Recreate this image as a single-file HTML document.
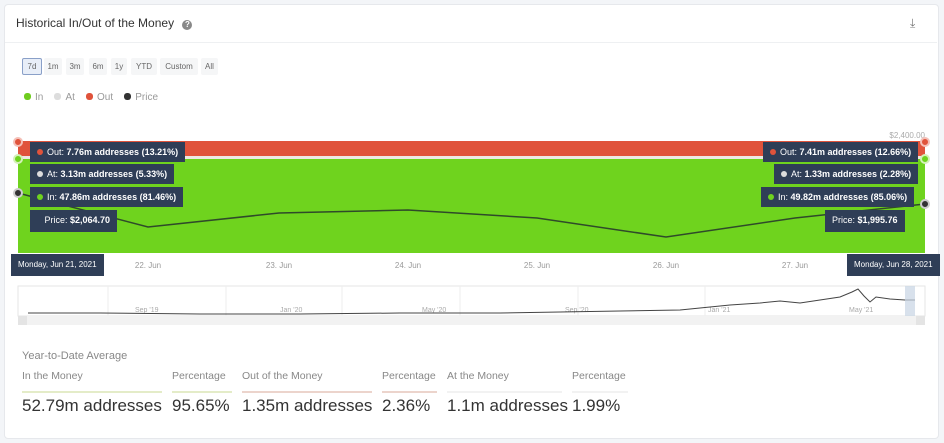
<!DOCTYPE html>
<html><head><style>
body{margin:0;width:944px;height:443px;background:#f3f5f8;font-family:"Liberation Sans",sans-serif;position:relative;overflow:hidden}
.card{position:absolute;left:4px;top:4px;width:933px;height:433px;background:#fff;border:1px solid #e6e8ec;border-radius:4px}
.a{position:absolute;white-space:nowrap}
.btn{position:absolute;top:58px;height:17px;font-size:8px;color:#666;background:#f5f6f7;line-height:17px;text-align:center;border-radius:2px}
.tt{position:absolute;background:#2f3e57;color:#fff;font-size:9px;height:20px;line-height:20px;padding:0 7px;white-space:nowrap}
.tt b{font-weight:bold}
.d{display:inline-block;width:6px;height:6px;border-radius:3px;margin-right:4px;vertical-align:0}
.lab{position:absolute;top:370px;font-size:10.5px;color:#888;padding-bottom:5px}
.val{position:absolute;top:396px;font-size:17px;color:#333}
</style></head><body>
<div class="card"></div>
<div class="a" style="left:16px;top:16px;font-size:12px;color:#333">Historical In/Out of the Money <span style="display:inline-block;width:10px;height:10px;border-radius:5px;background:#888;color:#fff;font-size:8px;text-align:center;line-height:10px;margin-left:5px;font-weight:bold">?</span></div>
<div class="a" style="left:910px;top:16px;font-size:12px;color:#777">⤓</div>
<div class="a" style="left:5px;top:42px;width:932px;height:1px;background:#eef0f2"></div>
<div class="btn" style="left:22px;width:18px;background:#e8eef8;border:1px solid #8aa0c8;height:15px;line-height:15px">7d</div>
<div class="btn" style="left:44px;width:18px">1m</div>
<div class="btn" style="left:66px;width:18px">3m</div>
<div class="btn" style="left:89px;width:18px">6m</div>
<div class="btn" style="left:111px;width:16px">1y</div>
<div class="btn" style="left:131px;width:26px">YTD</div>
<div class="btn" style="left:160px;width:38px">Custom</div>
<div class="btn" style="left:201px;width:17px">All</div>
<div class="a" style="left:24px;top:92px;font-size:10px;color:#999"><span class="d" style="background:#6fcc1f;width:7px;height:7px"></span>In &nbsp;&nbsp;&nbsp;<span class="d" style="background:#ddd;width:7px;height:7px"></span>At &nbsp;&nbsp;&nbsp;<span class="d" style="background:#e0533b;width:7px;height:7px"></span>Out &nbsp;&nbsp;&nbsp;<span class="d" style="background:#333;width:7px;height:7px"></span>Price</div>
<svg class="a" style="left:0;top:0" width="944" height="443">
<rect x="18" y="141" width="907" height="15" fill="#e0533b"/>
<rect x="18" y="156" width="907" height="3" fill="#eee8e4"/>
<rect x="18" y="159" width="907" height="94" fill="#6fd31e"/>
<polyline points="18,193 148,227 279,213 408,210 537,218 666,237 795,218 925,204" fill="none" stroke="#2f4a2a" stroke-width="1.5"/>
<text x="925" y="138" font-size="8" fill="#aaa" text-anchor="end">$2,400.00</text>
<g font-size="8" fill="#999" text-anchor="middle"><text x="148" y="268">22. Jun</text><text x="279" y="268">23. Jun</text><text x="408" y="268">24. Jun</text><text x="537" y="268">25. Jun</text><text x="666" y="268">26. Jun</text><text x="795" y="268">27. Jun</text></g>
<circle cx="18" cy="142" r="4" fill="#e0533b" stroke="#f4c0b8" stroke-width="2"/>
<circle cx="18" cy="159" r="4" fill="#6fd31e" stroke="#d4f0b8" stroke-width="2"/>
<circle cx="18" cy="193" r="4" fill="#333" stroke="#ccc" stroke-width="2"/>
<circle cx="925" cy="142" r="4" fill="#e0533b" stroke="#f4c0b8" stroke-width="2"/>
<circle cx="925" cy="159" r="4" fill="#6fd31e" stroke="#d4f0b8" stroke-width="2"/>
<circle cx="925" cy="204" r="4" fill="#333" stroke="#ccc" stroke-width="2"/>
<rect x="18" y="286" width="907" height="30" fill="#fff" stroke="#e6e6e6"/>
<g stroke="#eee"><line x1="108" y1="286" x2="108" y2="316"/><line x1="226" y1="286" x2="226" y2="316"/><line x1="342" y1="286" x2="342" y2="316"/><line x1="460" y1="286" x2="460" y2="316"/><line x1="578" y1="286" x2="578" y2="316"/><line x1="705" y1="286" x2="705" y2="316"/></g>
<g font-size="7" fill="#aaa"><text x="135" y="312">Sep '19</text><text x="280" y="312">Jan '20</text><text x="422" y="312">May '20</text><text x="565" y="312">Sep '20</text><text x="708" y="312">Jan '21</text><text x="849" y="312">May '21</text></g>
<polyline points="28,313 100,313 200,314 300,314 400,313 500,313 560,312 620,311 680,310 710,307 730,305 760,303 780,301 800,303 820,300 840,297 852,292 858,289 864,296 870,302 876,297 890,299 905,300 915,300" fill="none" stroke="#444" stroke-width="1"/>
<rect x="905" y="286" width="10" height="30" fill="#c8d4e4" opacity=".7"/>
<rect x="18" y="316" width="907" height="9" fill="#f2f2f2"/>
<rect x="18" y="316" width="9" height="9" fill="#e4e4e4"/><rect x="916" y="316" width="9" height="9" fill="#e4e4e4"/>
<line x1="22" y1="392" x2="162" y2="392" stroke="#c8d890"/><line x1="172" y1="392" x2="232" y2="392" stroke="#c8d890"/>
<line x1="242" y1="392" x2="372" y2="392" stroke="#d8a898"/><line x1="382" y1="392" x2="437" y2="392" stroke="#d8a898"/>
<line x1="447" y1="392" x2="562" y2="392" stroke="#e6e6e6"/><line x1="572" y1="392" x2="628" y2="392" stroke="#e6e6e6"/>
</svg>
<div class="tt" style="left:30px;top:142px"><span class="d" style="background:#e0533b"></span>Out: <b>7.76m addresses (13.21%)</b></div>
<div class="tt" style="left:30px;top:164px"><span class="d" style="background:#ddd"></span>At: <b>3.13m addresses (5.33%)</b></div>
<div class="tt" style="left:30px;top:187px"><span class="d" style="background:#6fd31e"></span>In: <b>47.86m addresses (81.46%)</b></div>
<div class="tt" style="left:30px;top:210px;height:22px">&nbsp;&nbsp;&nbsp;Price: <b>$2,064.70</b></div>
<div class="tt" style="left:11px;top:254px;font-size:8px;height:22px;line-height:22px">Monday, Jun 21, 2021</div>
<div class="tt" style="left:763px;top:142px"><span class="d" style="background:#e0533b"></span>Out: <b>7.41m addresses (12.66%)</b></div>
<div class="tt" style="left:774px;top:164px"><span class="d" style="background:#ddd"></span>At: <b>1.33m addresses (2.28%)</b></div>
<div class="tt" style="left:761px;top:187px"><span class="d" style="background:#6fd31e"></span>In: <b>49.82m addresses (85.06%)</b></div>
<div class="tt" style="left:825px;top:210px;height:22px">Price: <b>$1,995.76</b></div>
<div class="tt" style="left:847px;top:254px;font-size:8px;height:22px;line-height:22px">Monday, Jun 28, 2021</div>
<div class="a" style="left:22px;top:350px;font-size:11px;color:#888">Year-to-Date Average</div>
<div class="lab" style="left:22px">In the Money</div>
<div class="lab" style="left:172px">Percentage</div>
<div class="lab" style="left:242px">Out of the Money</div>
<div class="lab" style="left:382px">Percentage</div>
<div class="lab" style="left:447px">At the Money</div>
<div class="lab" style="left:572px">Percentage</div>
<div class="val" style="left:22px">52.79m addresses</div>
<div class="val" style="left:172px">95.65%</div>
<div class="val" style="left:242px">1.35m addresses</div>
<div class="val" style="left:382px">2.36%</div>
<div class="val" style="left:447px">1.1m addresses</div>
<div class="val" style="left:572px">1.99%</div>
</body></html>
